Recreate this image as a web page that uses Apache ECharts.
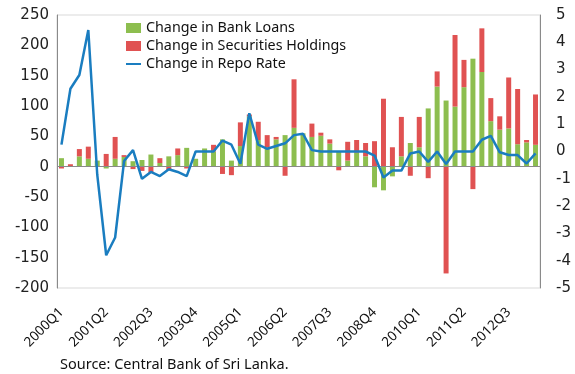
<!DOCTYPE html>
<html>
<head>
<meta charset="utf-8">
<script src="https://cdn.jsdelivr.net/npm/echarts@6/dist/echarts.min.js"></script>
<style>
  html, body { margin: 0; padding: 0; background: #fff; }
  #chart { width: 575px; height: 374px; }
</style>
</head>
<body>
<div id="chart"></div>
<script>
// Quarterly categories, 2000Q1 - 2013Q2
const quarters = [];
for (let y = 2000; y <= 2013; y++) {
  for (let q = 1; q <= 4; q++) {
    if (y === 2013 && q > 2) break;
    quarters.push(y + 'Q' + q);
  }
}

// Change in bank loans (left axis)
const bankLoans = [
  14, 1, 17, 13, 10, -3, 13, 16, 9, 11,
  20, 6, 17, 19, 31, 13, 30, 25, 45, 10,
  34, 83, 44, 32, 45, 52, 64, 55, 49, 51,
  38, 25, 10, 23, 17, -34, -39, -16, 17, 39,
  32, 96, 132, 109, 99, 131, 178, 156, 75, 61,
  63, 37, 40, 36
];

// Change in securities holdings (left axis)
const securities = [
  -3, 3, 12, 20, 0, 21, 36, 3, -4, -7,
  -10, 8, -6, 11, -3, 0, 0, 11, -12, -14,
  39, 3, 30, 20, 4, -15, 80, 0, 22, 5,
  7, -6, 31, 21, 22, 42, 112, 32, 65, -15,
  50, -19, 25, -176, 118, 45, -37, 72, 38, 22,
  84, 91, 4, 83
];

// Change in repo rate (right axis)
const repoRate = [
  0.25, 2.3, 2.8, 4.45, -0.85, -3.8, -3.15, -0.35, 0.05, -1.0,
  -0.75, -0.9, -0.65, -0.75, -0.9, 0, 0, 0, 0.4, 0.25,
  -0.45, 1.4, 0.25, 0.1, 0.2, 0.3, 0.6, 0.65, 0.05, 0,
  0, 0, 0, 0, 0, -0.15, -0.95, -0.7, -0.7, -0.07,
  0, -0.38, 0, -0.46, 0, 0, 0, 0.43, 0.57, -0.03,
  -0.13, -0.13, -0.44, -0.07
];

const seriesNames = ['Change in Bank Loans', 'Change in Securities Holdings', 'Change in Repo Rate'];
const sourceNote = 'Source: Central Bank of Sri Lanka.';

const textFont = '"Noto Sans", sans-serif';
const numFont = '"DejaVu Sans", sans-serif';

// plain hyphen-minus for negative tick values
const plainNumber = v => String(v);

const chart = echarts.init(document.getElementById('chart'), null, { renderer: 'canvas' });

chart.setOption({
  animation: false,
  backgroundColor: '#ffffff',
  grid: {
    left: 57, right: 35, top: 15, bottom: 86,
    show: true, borderColor: '#d9d9d9', borderWidth: 1, backgroundColor: 'transparent'
  },
  legend: {
    orient: 'vertical',
    left: 125, top: 19, padding: 0,
    itemWidth: 15, itemHeight: 10, itemGap: 0,
    textStyle: { fontFamily: textFont, fontSize: 14.3, color: '#111', lineHeight: 18 },
    data: [
      { name: seriesNames[0], icon: 'rect' },
      { name: seriesNames[1], icon: 'rect' },
      // plain line key, no marker dot
      { name: seriesNames[2], itemStyle: { opacity: 0 } }
    ]
  },
  xAxis: {
    type: 'category',
    data: quarters,
    boundaryGap: true,
    axisLine: { show: false, onZero: false },
    axisTick: { show: false },
    axisLabel: {
      interval: 4, rotate: 45, margin: 22,
      fontFamily: textFont, fontSize: 13.5, color: '#111'
    },
    splitLine: { show: false }
  },
  yAxis: [
    {
      type: 'value', min: -200, max: 250, interval: 50,
      axisLine: { show: true, lineStyle: { color: '#8a8a8a', width: 1 } },
      axisTick: { show: false },
      splitLine: { show: false },
      axisLabel: { margin: 8, fontFamily: numFont, fontSize: 15, color: '#222', formatter: plainNumber }
    },
    {
      type: 'value', min: -5, max: 5, interval: 1,
      position: 'right',
      axisLine: { show: true, lineStyle: { color: '#8a8a8a', width: 1 } },
      axisTick: { show: false },
      splitLine: { show: false },
      axisLabel: { margin: 16, fontFamily: numFont, fontSize: 15, color: '#222', formatter: plainNumber }
    }
  ],
  series: [
    {
      name: seriesNames[0], type: 'bar', stack: 'bank', yAxisIndex: 0,
      data: bankLoans, barWidth: 5,
      itemStyle: { color: '#8dbe4f' },
      markLine: {
        silent: true, symbol: ['none', 'none'],
        label: { show: false },
        lineStyle: { color: '#8a8a8a', type: 'solid', width: 1 },
        data: [{ yAxis: 0 }]
      }
    },
    {
      name: seriesNames[1], type: 'bar', stack: 'bank', yAxisIndex: 0,
      data: securities, barWidth: 5,
      itemStyle: { color: '#e05252' }
    },
    {
      name: seriesNames[2], type: 'line', yAxisIndex: 1,
      data: repoRate, symbol: 'none', z: 5,
      lineStyle: { color: '#1a7dc0', width: 2.5 },
      itemStyle: { color: '#1a7dc0' }
    }
  ],
  graphic: [
    {
      type: 'text', left: 60, top: 357,
      style: { text: sourceNote, font: '14.5px "Noto Sans", sans-serif', fill: '#111' }
    }
  ]
});
</script>
</body>
</html>
